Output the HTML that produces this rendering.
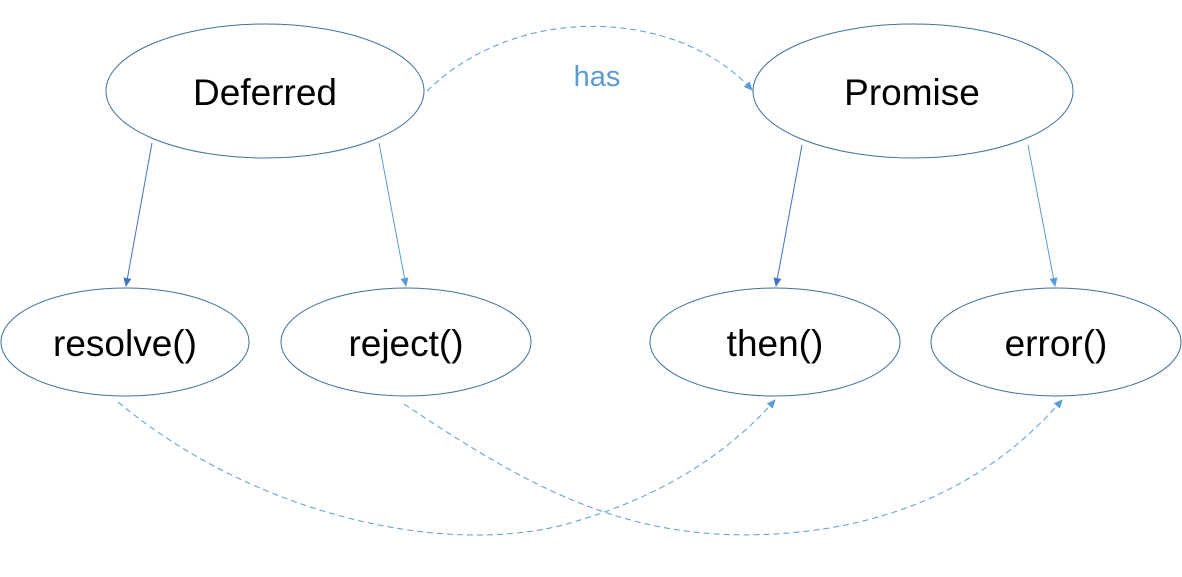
<!DOCTYPE html>
<html><head><style>
html,body{margin:0;padding:0;background:#fff;}
svg{display:block;}
text{font-family:"Liberation Sans",sans-serif;}
</style></head><body>
<svg width="1182" height="577" viewBox="0 0 1182 577">
<defs>
<marker id="a1" markerWidth="10" markerHeight="10" refX="8" refY="5" orient="auto" markerUnits="userSpaceOnUse"><path d="M0,1 L9,5 L0,9 z" fill="#4472c4"/></marker>
<marker id="a2" markerWidth="10" markerHeight="10" refX="8" refY="5" orient="auto" markerUnits="userSpaceOnUse"><path d="M0,1 L9,5 L0,9 z" fill="#5b9bd5"/></marker>
</defs>
<g fill="none" stroke="#41719c" stroke-width="1">
<ellipse cx="265" cy="91" rx="159" ry="67"/>
<ellipse cx="913" cy="91" rx="160" ry="67"/>
<ellipse cx="125" cy="342" rx="124" ry="54"/>
<ellipse cx="406" cy="342" rx="125" ry="54"/>
<ellipse cx="775" cy="342" rx="125" ry="54"/>
<ellipse cx="1056" cy="342" rx="125" ry="54"/>
</g>
<g stroke-width="1" fill="none">
<line x1="152" y1="143" x2="126" y2="286" stroke="#4472c4" marker-end="url(#a1)"/>
<line x1="379" y1="143" x2="406" y2="286" stroke="#5b9bd5" marker-end="url(#a2)"/>
<line x1="802" y1="145" x2="776" y2="286" stroke="#4472c4" marker-end="url(#a1)"/>
<line x1="1028" y1="145" x2="1055" y2="286" stroke="#5b9bd5" marker-end="url(#a2)"/>
<g stroke="#5b9bd5" stroke-dasharray="6,4">
<path d="M427,91 C520,0 680,10 752,90" marker-end="url(#a2)"/>
<path d="M118,402 C260,520 460,560 580,520 C680,490 740,440 775,400" marker-end="url(#a2)"/>
<path d="M404,404 C540,495 640,548 800,532 C930,518 1010,460 1062,400" marker-end="url(#a2)"/>
</g>
</g>
<g font-size="37" fill="#000" text-anchor="middle">
<text x="265" y="105">Deferred</text>
<text x="912" y="105">Promise</text>
<text x="125" y="356">resolve()</text>
<text x="406" y="356">reject()</text>
<text x="775" y="356">then()</text>
<text x="1056" y="356">error()</text>
</g>
<text x="597" y="86" font-size="29" fill="#5b9bd5" text-anchor="middle">has</text>
</svg>
</body></html>
